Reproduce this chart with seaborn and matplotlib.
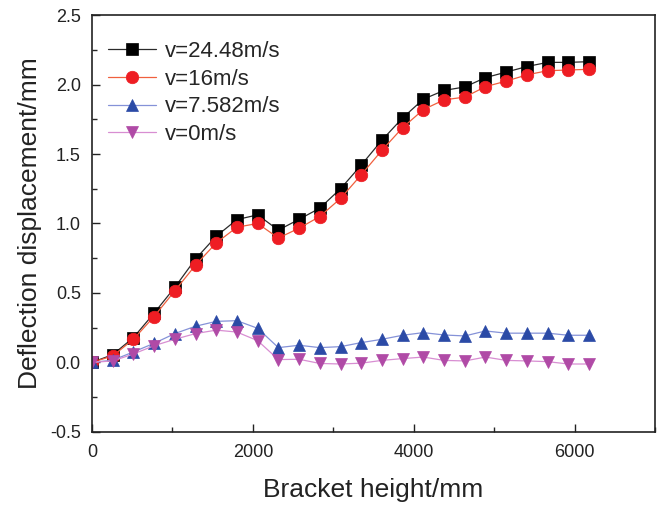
import numpy as np
import pandas as pd
import matplotlib
matplotlib.use("Agg")
import matplotlib.pyplot as plt
import seaborn as sns
from matplotlib.ticker import MultipleLocator

height = [0, 257, 515, 772, 1030, 1287, 1545, 1802, 2060, 2317, 2575, 2832, 3090,
          3347, 3605, 3862, 4120, 4377, 4635, 4892, 5150, 5407, 5665, 5922, 6180]

v24 = [0.00, 0.055, 0.178, 0.354, 0.54, 0.744, 0.908, 1.028, 1.062, 0.952, 1.03, 1.11,
       1.25, 1.42, 1.60, 1.76, 1.895, 1.958, 1.983, 2.05, 2.09, 2.13, 2.16, 2.16, 2.165]
v16 = [0.00, 0.046, 0.166, 0.33, 0.515, 0.70, 0.86, 0.973, 1.00, 0.895, 0.966, 1.05,
       1.18, 1.35, 1.527, 1.69, 1.82, 1.89, 1.91, 1.985, 2.025, 2.07, 2.10, 2.105, 2.11]
v7 = [0.00, 0.015, 0.075, 0.137, 0.207, 0.26, 0.295, 0.30, 0.245, 0.106, 0.123, 0.106,
      0.113, 0.142, 0.166, 0.195, 0.214, 0.197, 0.19, 0.226, 0.21, 0.21, 0.21, 0.195, 0.195]
v0 = [0.00, 0.01, 0.06, 0.12, 0.166, 0.207, 0.232, 0.218, 0.156, 0.02, 0.022, -0.008,
      -0.012, -0.006, 0.014, 0.027, 0.038, 0.014, 0.01, 0.038, 0.014, 0.01, 0.005, -0.012, -0.012]

labels = ["v=24.48m/s", "v=16m/s", "v=7.582m/s", "v=0m/s"]
series = [v24, v16, v7, v0]

styles = [
    dict(color="#2a2a2a", marker="s", mfc="#000000", mec="#000000", ms=8),
    dict(color="#f0603e", marker="o", mfc="#ee1d23", mec="#ee1d23", ms=9),
    dict(color="#8592d8", marker="^", mfc="#2b4aa6", mec="#2b4aa6", ms=9),
    dict(color="#d88ed2", marker="v", mfc="#b04aa6", mec="#b04aa6", ms=9),
]

sns.set_style("ticks")
plt.rcParams["font.family"] = ["Liberation Sans", "DejaVu Sans"]

fig = plt.figure(figsize=(6.57, 5.05), dpi=100)
ax = fig.add_axes([0.140, 0.145, 0.857, 0.825])

for lab, vals, st in zip(labels, series, styles):
    df = pd.DataFrame({"h": height, "d": vals})
    sns.lineplot(data=df, x="h", y="d", ax=ax, label=lab, color=st["color"],
                 linewidth=0.9, marker=st["marker"], markerfacecolor=st["mfc"],
                 markeredgecolor=st["mec"], markersize=st["ms"], markeredgewidth=0.5)

ax.set_xlim(0, 7000)
ax.set_ylim(-0.5, 2.5)
ax.xaxis.set_major_locator(MultipleLocator(2000))
ax.xaxis.set_minor_locator(MultipleLocator(1000))
ax.yaxis.set_major_locator(MultipleLocator(0.5))
ax.yaxis.set_minor_locator(MultipleLocator(0.25))
ax.yaxis.set_major_formatter(matplotlib.ticker.FormatStrFormatter("%.1f"))
ax.tick_params(which="major", direction="in", length=6, width=1.0, labelsize=13,
               colors="#222222")
ax.tick_params(axis="x", which="major", pad=9)
ax.tick_params(axis="y", which="major", pad=8)
ax.tick_params(which="minor", direction="in", length=3.5, width=1.0)
for s in ax.spines.values():
    s.set_linewidth(1.2)
    s.set_color("#222222")
    s.set_visible(True)

ax.set_xlabel("Bracket height/mm", fontsize=19, color="#222222", labelpad=12)
ax.set_ylabel("Deflection displacement/mm", fontsize=19, color="#222222", labelpad=6)

leg = ax.legend(loc="upper left", frameon=False, fontsize=16, handlelength=2.2,
                labelspacing=0.3, handletextpad=0.4, borderaxespad=0.3,
                bbox_to_anchor=(0.0, 0.975))

fig.savefig("out.png", dpi=100)
